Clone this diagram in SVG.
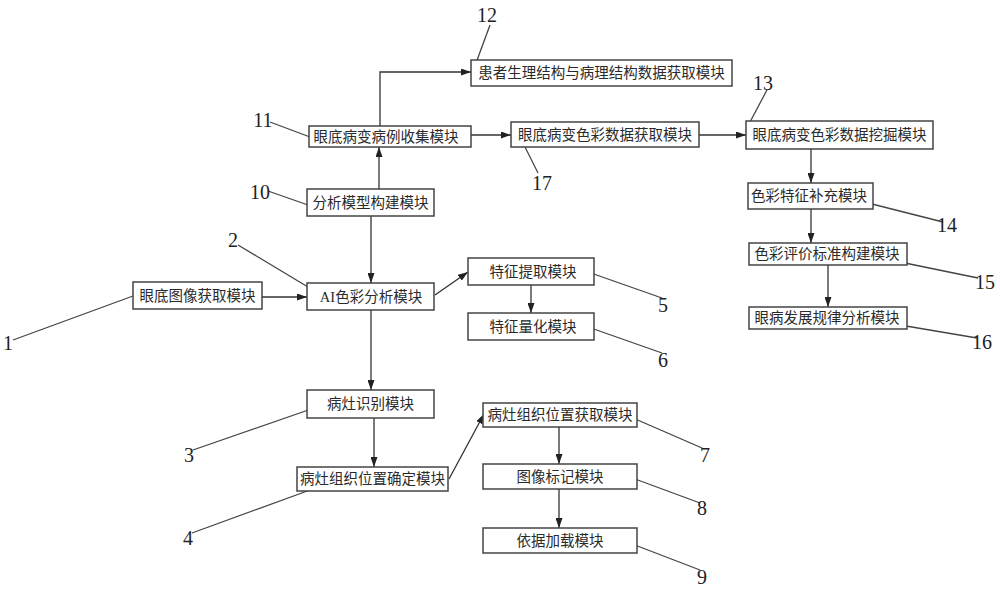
<svg xmlns="http://www.w3.org/2000/svg" width="1000" height="590" viewBox="0 0 1000 590">
<defs>
<marker id="ah" markerUnits="userSpaceOnUse" markerWidth="10" markerHeight="7" refX="10" refY="3.5" orient="auto">
<path d="M0,0 L10,3.5 L0,7 z" fill="#222"/>
</marker>
<style>
.box{fill:#fff;stroke:#444;stroke-width:1.5}
.t{font-family:"Noto Sans CJK SC","Noto Sans",sans-serif;font-size:14.5px;fill:#2a2a2a;text-anchor:middle}
.lat{font-family:"Liberation Serif",serif}
.n{font-family:"Liberation Serif",serif;font-size:20px;fill:#222;text-anchor:middle}
.a{stroke:#333;stroke-width:1.3;fill:none;marker-end:url(#ah)}
.l{stroke:#444;stroke-width:1.3;fill:none}
</style>
</defs>
<rect width="1000" height="590" fill="#fff"/>
<g id="connectors">
<line class="a" x1="262" y1="297" x2="307" y2="297"/>
<line class="a" x1="371" y1="216" x2="371" y2="283"/>
<line class="a" x1="379" y1="189" x2="379" y2="147"/>
<path class="a" d="M380,126 V72 H471"/>
<line class="a" x1="471" y1="135" x2="511" y2="135"/>
<line class="a" x1="699" y1="135" x2="746" y2="135"/>
<line class="a" x1="811" y1="149" x2="811" y2="183"/>
<line class="a" x1="811" y1="209" x2="811" y2="243"/>
<line class="a" x1="828" y1="265" x2="828" y2="307"/>
<line class="a" x1="435" y1="295" x2="468" y2="272"/>
<line class="a" x1="531" y1="285" x2="531" y2="313"/>
<line class="a" x1="371" y1="310" x2="371" y2="390"/>
<line class="a" x1="374" y1="418" x2="374" y2="467"/>
<line class="a" x1="449" y1="479" x2="484" y2="414"/>
<line class="a" x1="559" y1="427" x2="559" y2="464"/>
<line class="a" x1="559" y1="489" x2="559" y2="528"/>
</g>
<g id="leaders">
<line class="l" x1="13" y1="340" x2="133" y2="296"/>
<line class="l" x1="238" y1="245" x2="308" y2="287"/>
<line class="l" x1="193" y1="450" x2="317" y2="407"/>
<line class="l" x1="192" y1="533" x2="310" y2="490"/>
<line class="l" x1="588" y1="272" x2="662" y2="298"/>
<line class="l" x1="588" y1="327" x2="662" y2="353"/>
<line class="l" x1="633" y1="418" x2="702" y2="448"/>
<line class="l" x1="627" y1="476" x2="700" y2="503"/>
<line class="l" x1="627" y1="542" x2="700" y2="570"/>
<line class="l" x1="268" y1="191" x2="308" y2="205"/>
<line class="l" x1="270" y1="122" x2="310" y2="137"/>
<line class="l" x1="490" y1="25" x2="476" y2="63"/>
<line class="l" x1="767" y1="90" x2="750" y2="122"/>
<line class="l" x1="868" y1="203" x2="943" y2="222"/>
<line class="l" x1="900" y1="262" x2="978" y2="278"/>
<line class="l" x1="900" y1="325" x2="977" y2="338"/>
<line class="l" x1="523" y1="143" x2="538" y2="173"/>
</g>
<g id="node1"><rect class="box" x="133" y="282" width="129" height="27"/><text class="t" x="197.5" y="301">眼底图像获取模块</text><text class="n" x="8" y="350">1</text></g>
<g id="node2"><rect class="box" x="307" y="283" width="127" height="27"/><text class="t" x="371" y="302"><tspan class="lat">AI</tspan>色彩分析模块</text><text class="n" x="233" y="247">2</text></g>
<g id="node3"><rect class="box" x="307" y="390" width="127" height="28"/><text class="t" x="370.5" y="409">病灶识别模块</text><text class="n" x="189" y="462">3</text></g>
<g id="node4"><rect class="box" x="297" y="467" width="151" height="24"/><text class="t" x="372.5" y="484">病灶组织位置确定模块</text><text class="n" x="188" y="545">4</text></g>
<g id="node5"><rect class="box" x="468" y="258" width="126" height="27"/><text class="t" x="533" y="277">特征提取模块</text><text class="n" x="663" y="312">5</text></g>
<g id="node6"><rect class="box" x="468" y="313" width="126" height="27"/><text class="t" x="533" y="332">特征量化模块</text><text class="n" x="663" y="367">6</text></g>
<g id="node7"><rect class="box" x="483" y="403" width="154" height="24"/><text class="t" x="560" y="420">病灶组织位置获取模块</text><text class="n" x="705" y="462">7</text></g>
<g id="node8"><rect class="box" x="483" y="464" width="154" height="25"/><text class="t" x="560" y="481.5">图像标记模块</text><text class="n" x="702" y="515">8</text></g>
<g id="node9"><rect class="box" x="483" y="528" width="154" height="25"/><text class="t" x="560" y="545.5">依据加载模块</text><text class="n" x="702" y="584">9</text></g>
<g id="node10"><rect class="box" x="307" y="189" width="127" height="27"/><text class="t" x="370.5" y="208">分析模型构建模块</text><text class="n" x="260" y="199">10</text></g>
<g id="node11"><rect class="box" x="309" y="126" width="162" height="21"/><text class="t" x="386" y="142">眼底病变病例收集模块</text><text class="n" x="263" y="127">11</text></g>
<g id="node12"><rect class="box" x="471" y="60" width="261" height="26"/><text class="t" x="601.5" y="78">患者生理结构与病理结构数据获取模块</text><text class="n" x="487" y="22">12</text></g>
<g id="node13"><rect class="box" x="746" y="121" width="187" height="28"/><text class="t" x="839.5" y="140">眼底病变色彩数据挖掘模块</text><text class="n" x="763" y="90">13</text></g>
<g id="node14"><rect class="box" x="748" y="183" width="125" height="26"/><text class="t" x="809" y="201">色彩特征补充模块</text><text class="n" x="947" y="232">14</text></g>
<g id="node15"><rect class="box" x="749" y="243" width="158" height="22"/><text class="t" x="827" y="259">色彩评价标准构建模块</text><text class="n" x="985" y="289">15</text></g>
<g id="node16"><rect class="box" x="749" y="307" width="158" height="22"/><text class="t" x="827" y="323">眼病发展规律分析模块</text><text class="n" x="982" y="349">16</text></g>
<g id="node17"><rect class="box" x="511" y="122" width="188" height="25"/><text class="t" x="605" y="139.5">眼底病变色彩数据获取模块</text><text class="n" x="542" y="190">17</text></g>
</svg>
